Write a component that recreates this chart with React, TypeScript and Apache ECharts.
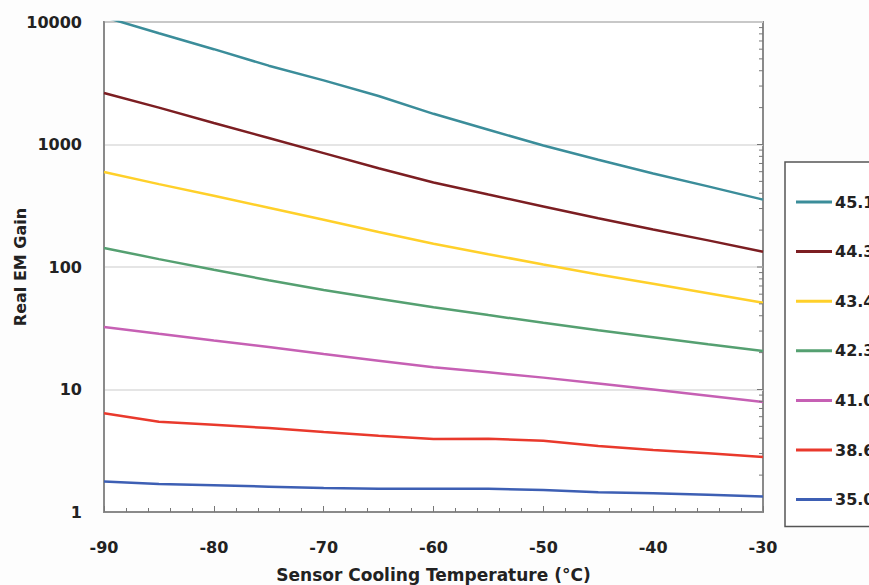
import React, { useEffect, useRef } from "react";
import * as echarts from "echarts";

const temperatures = [-90, -85, -80, -75, -70, -65, -60, -55, -50, -45, -40, -35, -30];

const seriesNames = ["45.1", "44.3", "43.4", "42.3", "41.0", "38.6", "35.0"];
const seriesColors = ["#3b8d9a", "#7c1e22", "#ffd02a", "#55a071", "#c660b4", "#e9392c", "#3d5fb4"];

const gain451 = [11000, 8100, 6000, 4400, 3340, 2490, 1780, 1320, 980, 750, 580, 455, 355];
const gain443 = [2630, 2000, 1500, 1130, 850, 640, 490, 390, 312, 250, 202, 165, 133];
const gain434 = [597, 475, 381, 305, 243, 193, 155, 127, 105, 87, 73, 61, 51];
const gain423 = [143, 116, 95, 78, 65, 55, 47, 40.5, 35, 30.5, 26.7, 23.4, 20.6];
const gain410 = [32.4, 28.5, 25.1, 22.2, 19.5, 17.2, 15.2, 13.8, 12.5, 11.2, 10, 8.9, 7.9];
const gain386 = [6.4, 5.45, 5.15, 4.85, 4.5, 4.2, 3.95, 3.97, 3.82, 3.46, 3.2, 3.02, 2.81];
const gain350 = [1.77, 1.69, 1.65, 1.61, 1.57, 1.55, 1.55, 1.55, 1.51, 1.45, 1.42, 1.38, 1.34];

const allGains = [gain451, gain443, gain434, gain423, gain410, gain386, gain350];

const rightTickValues = [
  2, 3, 4, 5, 6, 7, 8, 9, 10,
  20, 30, 40, 50, 60, 70, 80, 90, 100,
  200, 300, 400, 500, 600, 700, 800, 900, 1000,
  2000, 3000, 4000, 5000, 6000, 7000, 8000, 9000,
];

const FONT = "'DejaVu Sans', Arial, sans-serif";

export default function App() {
  const ref = useRef<HTMLDivElement>(null);

  useEffect(() => {
    document.body.style.margin = "0";
    const chart = echarts.init(ref.current!, null, { renderer: "svg" });

    const lineSeries = seriesNames.map((name, i) => ({
      name,
      type: "line",
      data: temperatures.map((t, j) => [t, allGains[i][j]]),
      symbol: "none",
      showSymbol: false,
      lineStyle: { color: seriesColors[i], width: 2.5 },
      itemStyle: { color: seriesColors[i] },
      clip: true,
      z: 3,
    }));

    chart.setOption({
      animation: false,
      backgroundColor: "#fdfdfd",
      textStyle: { fontFamily: FONT },
      grid: {
        left: 104,
        top: 22,
        right: 106,
        bottom: 73,
        show: true,
        outerBoundsMode: "none",
        containLabel: false,
        backgroundColor: "#ffffff",
        borderColor: "#8a8a8a",
        borderWidth: 2,
      },
      legend: {
        data: seriesNames,
        orient: "vertical",
        left: 785,
        top: 162,
        icon: "rect",
        itemWidth: 36,
        itemHeight: 3,
        itemGap: 33.6,
        padding: [32, 40, 19, 11],
        borderColor: "#555",
        borderWidth: 1.5,
        backgroundColor: "#ffffff",
        textStyle: { fontFamily: FONT, fontWeight: "bold", fontSize: 16, color: "#222", padding: [0, 0, 0, -2] },
        selectedMode: false,
      },
      xAxis: {
        type: "value",
        min: -90,
        max: -30,
        interval: 10,
        axisLine: { show: true, lineStyle: { color: "#8a8a8a", width: 2 } },
        axisTick: { show: true, inside: true, length: 6, lineStyle: { color: "#777", width: 1 } },
        minorTick: { show: true, splitNumber: 5, length: 4, lineStyle: { color: "#777", width: 1 } },
        splitLine: { show: false },
        axisLabel: { fontFamily: FONT, fontWeight: "bold", fontSize: 16, color: "#222", margin: 27 },
        name: "Sensor Cooling Temperature (°C)",
        nameLocation: "middle",
        nameGap: 54,
        nameTextStyle: { fontFamily: FONT, fontWeight: "bold", fontSize: 17, color: "#222" },
      },
      yAxis: {
        type: "log",
        logBase: 10,
        min: 1,
        max: 10000,
        axisLine: { show: true, lineStyle: { color: "#8a8a8a", width: 2 } },
        axisTick: { show: false },
        splitLine: { show: true, lineStyle: { color: "#dddddd", width: 1.5 } },
        axisLabel: {
          fontFamily: FONT,
          fontWeight: "bold",
          fontSize: 16,
          color: "#222",
          margin: 22,
          formatter: (v: number) => String(Math.round(v)),
        },
        name: "Real EM Gain",
        nameLocation: "middle",
        nameGap: 76,
        nameMoveOverlap: false,
        nameRotate: 90,
        nameTextStyle: { fontFamily: FONT, fontWeight: "bold", fontSize: 16, color: "#222" },
      },
      series: [
        ...lineSeries,
        {
          name: "rightTicks",
          type: "custom",
          clip: false,
          silent: true,
          z: 4,
          data: rightTickValues.map((v) => [-30, v]),
          renderItem: (_params: any, api: any) => {
            const p = api.coord([api.value(0), api.value(1)]);
            const v = api.value(1);
            const isMajor = Math.abs(Math.log10(v) - Math.round(Math.log10(v))) < 1e-6;
            const len = isMajor ? 6 : 4;
            return {
              type: "line",
              shape: { x1: p[0] - len, y1: p[1], x2: p[0], y2: p[1] },
              style: { stroke: "#777", lineWidth: 1 },
            };
          },
        },
      ],
    });

    return () => chart.dispose();
  }, []);

  return (
    <div
      ref={ref}
      style={{ position: "fixed", left: 0, top: 0, width: 869, height: 585, background: "#fdfdfd" }}
    />
  );
}
